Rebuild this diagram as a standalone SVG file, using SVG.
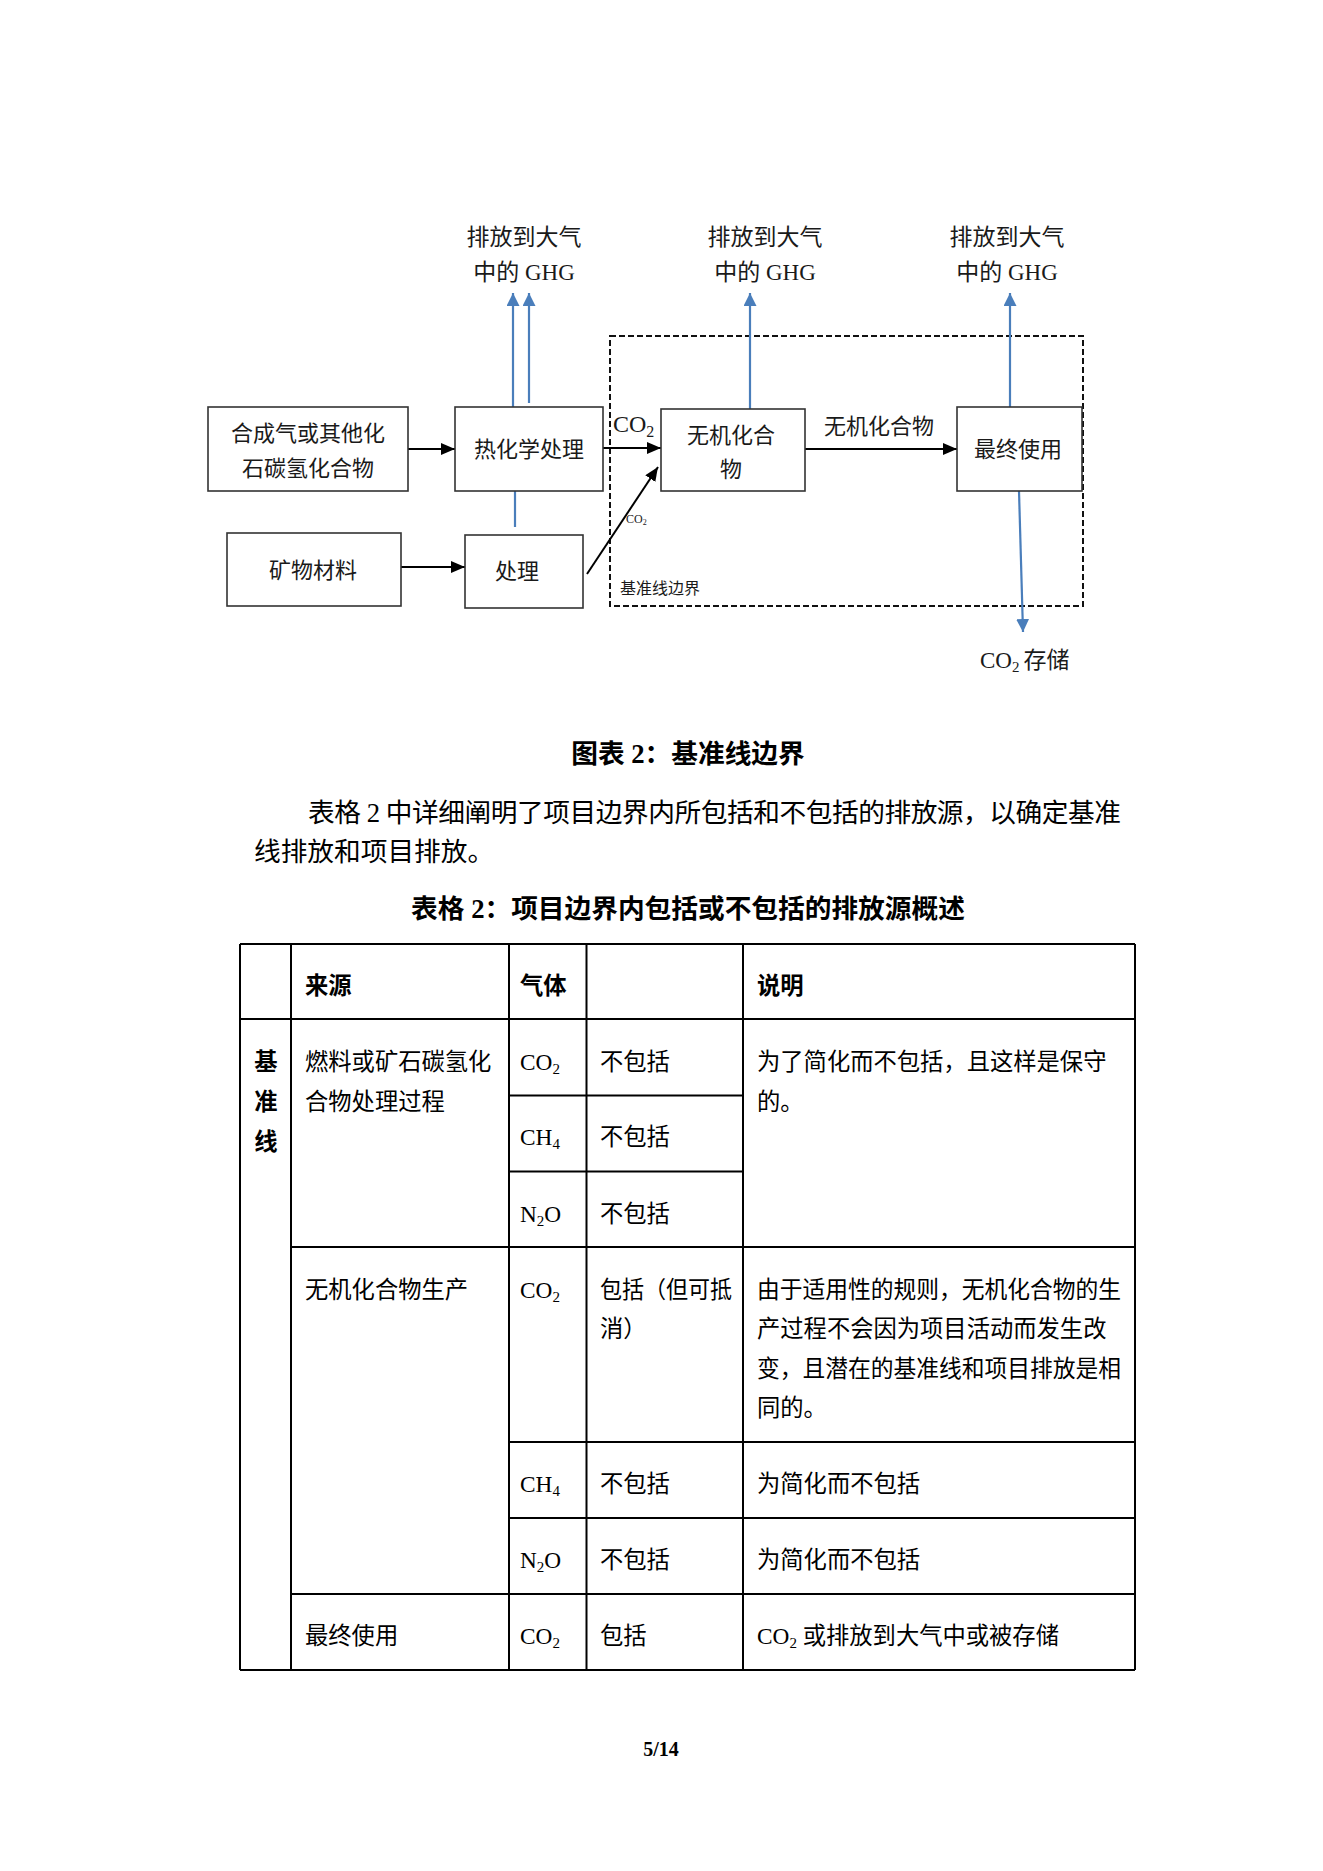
<svg xmlns="http://www.w3.org/2000/svg" width="1323" height="1871" viewBox="0 0 1323 1871">
<style>
text{font-family:"Liberation Serif","Noto Sans CJK SC",serif;fill:#1a1a1a}
.bx{fill:#fff;stroke:#333;stroke-width:1.6}
.t22{font-size:22px}
.t23{font-size:23px}
.c{text-anchor:middle}
.blk{stroke:#000;stroke-width:2;fill:none}
.blu{stroke:#4a7ebb;stroke-width:2.2;fill:none}
.tl{stroke:#000;stroke-width:2;fill:none}
.b{font-weight:bold}
.body{font-size:26.7px;fill:#000}
.tb{font-size:23.3px;fill:#000}
</style>
<defs>
<marker id="ab" markerUnits="userSpaceOnUse" markerWidth="14" markerHeight="12" refX="14" refY="6" orient="auto"><path d="M0,0 L14,6 L0,12 z" fill="#000"/></marker>
<marker id="au" markerUnits="userSpaceOnUse" markerWidth="13" markerHeight="13" refX="13" refY="6.5" orient="auto"><path d="M0,0 L13,6.5 L0,13 z" fill="#4a7ebb"/></marker>
</defs>
<rect width="1323" height="1871" fill="#fff"/>

<g id="boundary">
<rect x="610" y="336" width="473" height="270" fill="none" stroke="#111" stroke-width="2" stroke-dasharray="6,3"/>
<text x="620" y="594" style="font-size:16px">基准线边界</text>
</g>

<g id="connectors">
<line class="blk" x1="408" y1="449" x2="455" y2="449" marker-end="url(#ab)"/>
<line class="blk" x1="401" y1="567" x2="465" y2="567" marker-end="url(#ab)"/>
<line class="blk" x1="603" y1="448" x2="661" y2="448" marker-end="url(#ab)"/>
<line class="blk" x1="587" y1="574" x2="658" y2="467" marker-end="url(#ab)"/>
<line class="blk" x1="805" y1="449" x2="957" y2="449" marker-end="url(#ab)"/>
<line class="blu" x1="513" y1="407" x2="513" y2="293" marker-end="url(#au)"/>
<line class="blu" x1="529" y1="403" x2="529" y2="293" marker-end="url(#au)"/>
<line class="blu" x1="515" y1="491" x2="515" y2="527"/>
<line class="blu" x1="750" y1="409" x2="750" y2="293" marker-end="url(#au)"/>
<line class="blu" x1="1010" y1="407" x2="1010" y2="293" marker-end="url(#au)"/>
<line class="blu" x1="1019" y1="491" x2="1023" y2="632" marker-end="url(#au)"/>
<text x="613" y="432" style="font-size:24px">CO<tspan style="font-size:16px" dy="5">2</tspan></text>
<text x="879" y="434" class="t22 c">无机化合物</text>
<text x="626" y="523" style="font-size:12px">CO<tspan style="font-size:8px" dy="2">2</tspan></text>
</g>

<g id="ghg1"><text x="524" y="245" class="t23 c">排放到大气</text><text x="524" y="280" class="t23 c">中的 GHG</text></g>
<g id="ghg2"><text x="765" y="245" class="t23 c">排放到大气</text><text x="765" y="280" class="t23 c">中的 GHG</text></g>
<g id="ghg3"><text x="1007" y="245" class="t23 c">排放到大气</text><text x="1007" y="280" class="t23 c">中的 GHG</text></g>
<g id="storage"><text x="980" y="668" class="t23">CO<tspan style="font-size:15px" dy="4">2</tspan><tspan dx="4" dy="-4">存储</tspan></text></g>

<g id="n-syngas"><rect class="bx" x="208" y="407" width="200" height="84"/><text x="308" y="441" class="t22 c">合成气或其他化</text><text x="308" y="476" class="t22 c">石碳氢化合物</text></g>
<g id="n-thermo"><rect class="bx" x="455" y="407" width="148" height="84"/><text x="529" y="457" class="t22 c">热化学处理</text></g>
<g id="n-mineral"><rect class="bx" x="227" y="533" width="174" height="73"/><text x="313" y="578" class="t22 c">矿物材料</text></g>
<g id="n-process"><rect class="bx" x="465" y="535" width="118" height="73"/><text x="517" y="579" class="t22 c">处理</text></g>
<g id="n-inorganic"><rect class="bx" x="661" y="409" width="144" height="82"/><text x="731" y="443" class="t22 c">无机化合</text><text x="731" y="477" class="t22 c">物</text></g>
<g id="n-enduse"><rect class="bx" x="957" y="407" width="125" height="84"/><text x="1018" y="457" class="t22 c">最终使用</text></g>

<g id="captions">
<text x="688" y="763" class="body b c">图表 2：基准线边界</text>
<text x="308" y="822" class="body" textLength="813" lengthAdjust="spacing">表格 2 中详细阐明了项目边界内所包括和不包括的排放源，以确定基准</text>
<text x="254" y="861" class="body">线排放和项目排放。</text>
<text x="688" y="918" class="body b c">表格 2：项目边界内包括或不包括的排放源概述</text>
<text x="661" y="1756" class="b c" style="font-size:20px;fill:#000">5/14</text>
</g>

<g id="table">
<g id="table-lines">
<line class="tl" x1="240" y1="944" x2="1135" y2="944"/>
<line class="tl" x1="240" y1="1019" x2="1135" y2="1019"/>
<line class="tl" x1="509" y1="1095.5" x2="743" y2="1095.5"/>
<line class="tl" x1="509" y1="1171.5" x2="743" y2="1171.5"/>
<line class="tl" x1="291" y1="1247" x2="1135" y2="1247"/>
<line class="tl" x1="509" y1="1442" x2="1135" y2="1442"/>
<line class="tl" x1="509" y1="1518" x2="1135" y2="1518"/>
<line class="tl" x1="291" y1="1594" x2="1135" y2="1594"/>
<line class="tl" x1="240" y1="1670" x2="1135" y2="1670"/>
<line class="tl" x1="240" y1="944" x2="240" y2="1670"/>
<line class="tl" x1="291" y1="944" x2="291" y2="1670"/>
<line class="tl" x1="509" y1="944" x2="509" y2="1670"/>
<line class="tl" x1="586.5" y1="944" x2="586.5" y2="1670"/>
<line class="tl" x1="743" y1="944" x2="743" y2="1670"/>
<line class="tl" x1="1135" y1="944" x2="1135" y2="1670"/>
</g>
<g id="table-text">
<text x="305" y="994" class="tb b">来源</text>
<text x="520" y="994" class="tb b">气体</text>
<text x="757" y="994" class="tb b">说明</text>
<text x="266" y="1070" class="tb b c">基</text>
<text x="266" y="1110" class="tb b c">准</text>
<text x="266" y="1150" class="tb b c">线</text>
<text x="305" y="1070" class="tb">燃料或矿石碳氢化</text>
<text x="305" y="1110" class="tb">合物处理过程</text>
<text x="520" y="1070" class="tb">CO<tspan style="font-size:15px" dy="4">2</tspan></text>
<text x="600" y="1070" class="tb">不包括</text>
<text x="520" y="1145" class="tb">CH<tspan style="font-size:15px" dy="4">4</tspan></text>
<text x="600" y="1145" class="tb">不包括</text>
<text x="520" y="1222" class="tb">N<tspan style="font-size:15px" dy="4">2</tspan><tspan dy="-4">O</tspan></text>
<text x="600" y="1222" class="tb">不包括</text>
<text x="757" y="1070" class="tb">为了简化而不包括，且这样是保守</text>
<text x="757" y="1110" class="tb">的。</text>
<text x="305" y="1298" class="tb">无机化合物生产</text>
<text x="520" y="1298" class="tb">CO<tspan style="font-size:15px" dy="4">2</tspan></text>
<text x="600" y="1298" class="tb" textLength="132" lengthAdjust="spacingAndGlyphs">包括（但可抵</text>
<text x="600" y="1337" class="tb">消）</text>
<text x="757" y="1298" class="tb" textLength="364" lengthAdjust="spacingAndGlyphs">由于适用性的规则，无机化合物的生</text>
<text x="757" y="1337" class="tb">产过程不会因为项目活动而发生改</text>
<text x="757" y="1377" class="tb" textLength="364" lengthAdjust="spacingAndGlyphs">变，且潜在的基准线和项目排放是相</text>
<text x="757" y="1416" class="tb">同的。</text>
<text x="520" y="1492" class="tb">CH<tspan style="font-size:15px" dy="4">4</tspan></text>
<text x="600" y="1492" class="tb">不包括</text>
<text x="757" y="1492" class="tb">为简化而不包括</text>
<text x="520" y="1568" class="tb">N<tspan style="font-size:15px" dy="4">2</tspan><tspan dy="-4">O</tspan></text>
<text x="600" y="1568" class="tb">不包括</text>
<text x="757" y="1568" class="tb">为简化而不包括</text>
<text x="305" y="1644" class="tb">最终使用</text>
<text x="520" y="1644" class="tb">CO<tspan style="font-size:15px" dy="4">2</tspan></text>
<text x="600" y="1644" class="tb">包括</text>
<text x="757" y="1644" class="tb">CO<tspan style="font-size:15px" dy="4">2</tspan><tspan dy="-4"> 或排放到大气中或被存储</tspan></text>
</g>
</g>
</svg>
